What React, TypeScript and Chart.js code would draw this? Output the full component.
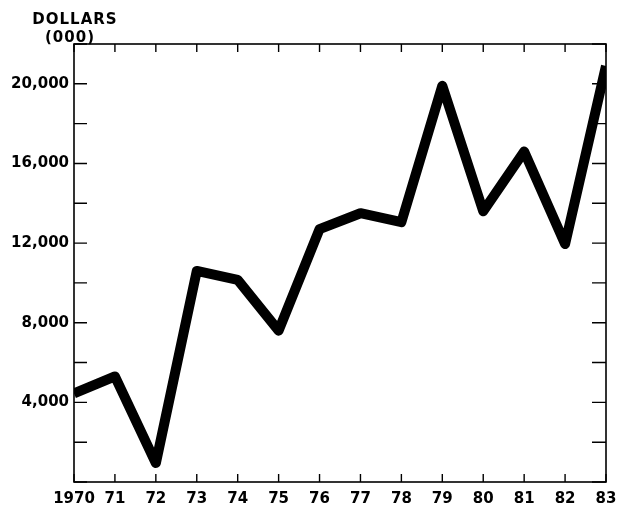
import React, { useEffect, useRef } from "react";
import { Chart, registerables } from "chart.js";

Chart.register(...registerables);

const years = [1970, 1971, 1972, 1973, 1974, 1975, 1976, 1977, 1978, 1979, 1980, 1981, 1982, 1983];
const dollarsThousands = [4450, 5300, 950, 10600, 10150, 7600, 12700, 13500, 13050, 19900, 13600, 16600, 11950, 20900];
const yTickLabels = [4000, 8000, 12000, 16000, 20000];
const titleLines = ["DOLLARS", "(000)"];

const FONT_FAMILY = "'DejaVu Sans', sans-serif";

const frameTicksPlugin = {
  id: "frameTicks",
  beforeDatasetsDraw(chart: any) {
    const { ctx, chartArea } = chart;
    const { left, right, top, bottom } = chartArea;
    const xs = chart.scales.x;
    const ys = chart.scales.y;
    ctx.save();
    ctx.strokeStyle = "#000";
    ctx.lineWidth = 1.6;
    ctx.strokeRect(left, top, right - left, bottom - top);
    ctx.lineWidth = 1.4;
    ctx.beginPath();
    for (const t of xs.ticks) {
      const px = xs.getPixelForValue(t.value);
      ctx.moveTo(px, bottom);
      ctx.lineTo(px, bottom - 8);
      ctx.moveTo(px, top);
      ctx.lineTo(px, top + 8);
    }
    for (const t of ys.ticks) {
      const py = ys.getPixelForValue(t.value);
      ctx.moveTo(left, py);
      ctx.lineTo(left + 13, py);
      ctx.moveTo(right, py);
      ctx.lineTo(right - 14, py);
    }
    ctx.stroke();
    ctx.restore();
  },
  afterDraw(chart: any) {
    const { ctx, chartArea } = chart;
    ctx.save();
    ctx.fillStyle = "#000";
    ctx.font = `bold 15px ${FONT_FAMILY}`;
    (ctx as any).letterSpacing = "1px";
    ctx.textAlign = "center";
    ctx.textBaseline = "middle";
    ctx.fillText(titleLines[0], chartArea.left + 1, 20);
    ctx.fillText(titleLines[1], chartArea.left - 4, 38);
    ctx.restore();
  },
};

export default function App() {
  const ref = useRef<HTMLCanvasElement | null>(null);
  useEffect(() => {
    if (!ref.current) return;
    const chart = new Chart(ref.current, {
      type: "line",
      data: {
        datasets: [
          {
            data: years.map((y, i) => ({ x: y, y: dollarsThousands[i] })),
            borderColor: "#000",
            borderWidth: 10,
            pointRadius: 0,
            tension: 0,
            borderJoinStyle: "round",
            borderCapStyle: "butt",
            clip: 0,
          } as any,
        ],
      },
      options: {
        animation: false,
        responsive: false,
        maintainAspectRatio: false,
        layout: { padding: { left: 0, top: 44, right: 11, bottom: 0 } },
        plugins: { legend: { display: false }, tooltip: { enabled: false }, title: { display: false } },
        scales: {
          x: {
            type: "linear",
            min: years[0],
            max: years[years.length - 1],
            grid: { display: false, drawTicks: false },
            border: { display: false },
            ticks: {
              stepSize: 1,
              autoSkip: false,
              maxRotation: 0,
              padding: 8,
              color: "#000",
              font: { family: FONT_FAMILY, size: 15, weight: "bold" },
              callback: (v: any) => (v === years[0] ? String(v) : String(Number(v) % 100).padStart(2, "0")),
            },
            afterFit: (s: any) => {
              s.height = 24;
              s.paddingLeft = 0;
              s.paddingRight = 0;
            },
          },
          y: {
            min: 0,
            max: 22000,
            grid: { display: false, drawTicks: false },
            border: { display: false },
            ticks: {
              stepSize: 2000,
              autoSkip: false,
              padding: 5,
              color: "#000",
              font: { family: FONT_FAMILY, size: 15, weight: "bold" },
              callback: (v: any) => (yTickLabels.includes(Number(v)) ? Number(v).toLocaleString("en-US") : ""),
            },
            afterFit: (s: any) => {
              s.width = 74;
              s.paddingTop = 0;
              s.paddingBottom = 0;
            },
          },
        },
      },
      plugins: [frameTicksPlugin],
    } as any);
    return () => chart.destroy();
  }, []);
  return (
    <div style={{ position: "absolute", left: 0, top: 0, width: 617, height: 506, background: "#fff" }}>
      <canvas ref={ref} width={617} height={506} />
    </div>
  );
}
